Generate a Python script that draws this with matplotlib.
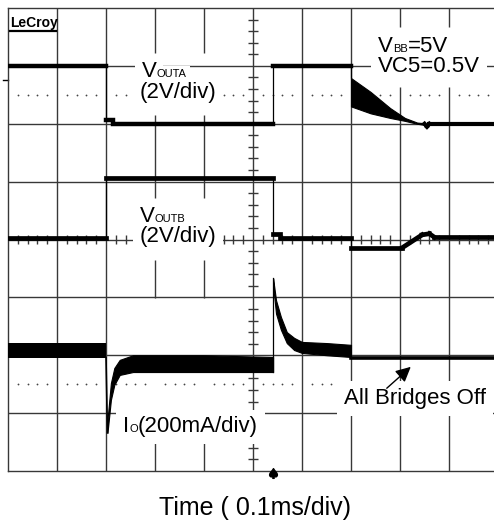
import matplotlib
matplotlib.use("Agg")
from matplotlib import pyplot as plt

plt.rcParams['font.family'] = ['Liberation Sans', 'DejaVu Sans']

'''Scope traces, read off the screen (x in time divisions, y in divisions from the bottom)'''
# VOUTA
outa_t = [0, 2.0, 2.0, 2.15, 2.15, 5.41, 5.41, 7.0, 7.0]
outa_v = [7.0, 7.0, 6.07, 6.07, 6.0, 6.0, 7.0, 7.0, 6.79]
outa_dec_t = [7.0, 7.4, 7.8, 8.1, 8.35, 8.5]
outa_dec_hi = [6.79, 6.55, 6.27, 6.10, 6.02, 6.01]
outa_dec_lo = [6.30, 6.18, 6.10, 6.05, 6.0, 5.98]
outa_tail_t = [8.5, 8.55, 8.6, 10]
outa_tail_v = [6.0, 5.95, 6.0, 6.0]

# VOUTB
outb_t = [0, 2.0, 2.0, 5.41, 5.41, 5.55, 5.55, 7.0, 7.0, 8.05, 8.45, 8.6, 8.7, 10]
outb_v = [4.03, 4.03, 5.06, 5.06, 4.09, 4.09, 4.03, 4.03, 3.86, 3.86, 4.08, 4.10, 4.04, 4.04]

# Io
io_pre_t = [0, 2.0]
io_pre_hi = [2.21, 2.21]
io_pre_lo = [1.96, 1.96]
io_drop_t = [2.0, 2.03]
io_drop_v = [1.96, 0.66]
io_rec_t = [2.03, 2.1, 2.17, 2.28, 2.55, 2.9, 3.25, 4.0, 5.41]
io_rec_hi = [0.88, 1.52, 1.78, 1.92, 2.0, 2.0, 2.0, 2.0, 1.97]
io_rec_lo = [0.66, 1.23, 1.49, 1.66, 1.71, 1.71, 1.71, 1.71, 1.71]
io_jump_t = [5.41, 5.41]
io_jump_v = [1.71, 3.33]
io_dec_t = [5.41, 5.47, 5.57, 5.69, 5.84, 6.0, 6.51, 7.0]
io_dec_hi = [3.33, 2.95, 2.66, 2.40, 2.30, 2.23, 2.21, 2.18]
io_dec_lo = [3.20, 2.72, 2.44, 2.21, 2.09, 2.04, 2.00, 1.97]
io_off_t = [7.0, 10]
io_off_v = [1.96, 1.96]

trig_t = 5.41

'''Screen'''
fig = plt.figure(figsize=(4.94, 5.23), dpi=100)
ax = fig.add_axes([8/494, 52/523, 490/494, 463/523])
ax.set_xlim(0, 10)
ax.set_ylim(0, 8)
ax.set_xticks([])
ax.set_yticks([])
grid = "#383838"
for s in ax.spines.values():
    s.set_color(grid)
    s.set_linewidth(1.0)
ax.spines["right"].set_visible(False)

# grid (some vertical lines are broken where the labels sit)
for t in [1, 2, 5, 6, 7]:
    ax.axvline(t, color=grid, lw=1.0, zorder=1)
for t in [3, 4]:
    for y0, y1 in [(7.22, 8), (4.72, 6.15), (2.99, 3.64), (0, 0.48)]:
        ax.vlines(t, y0, y1, color=grid, lw=1.0, zorder=1)
for t in [8, 9]:
    for y0, y1 in [(7.67, 8), (0, 6.63)]:
        ax.vlines(t, y0, y1, color=grid, lw=1.0, zorder=1)
for d in range(1, 8):
    ax.axhline(d, color=grid, lw=1.0, zorder=1)

# minor ticks on the centre lines and the dotted levels
minor_x = [k * 0.2 for k in range(51) if k % 5]
minor_y = [k * 0.2 for k in range(41) if k % 5]
ax.vlines(minor_x, 4 - 0.078, 4 + 0.078, color=grid, lw=1.0, zorder=1)
ax.hlines(minor_y, 5 - 0.1, 5 + 0.1, color=grid, lw=1.0, zorder=1)
for lvl in (6.5, 1.5):
    ax.plot(minor_x, [lvl] * len(minor_x), ls="none", marker="o", ms=1.3,
            mew=0, color="#444444", zorder=1)


def trace(t, v, lw):
    for i in range(len(t) - 1):
        w = 0.9 if t[i] == t[i + 1] else lw
        ax.plot(t[i:i + 2], v[i:i + 2], color="black", lw=w,
                solid_capstyle="projecting" if w > 1 else "butt", zorder=4)


trace(outa_t, outa_v, 3.2)
ax.fill_between(outa_dec_t, outa_dec_lo, outa_dec_hi, color="black", lw=0.8, zorder=4)
trace(outa_tail_t, outa_tail_v, 3.0)
trace(outb_t, outb_v, 3.4)

ax.fill_between(io_pre_t, io_pre_lo, io_pre_hi, color="black", lw=0, zorder=4)
ax.plot(io_drop_t, io_drop_v, color="black", lw=1.2, zorder=4)
ax.fill_between(io_rec_t, io_rec_lo, io_rec_hi, color="black", lw=0.8, zorder=4)
ax.plot(io_jump_t, io_jump_v, color="black", lw=0.9, zorder=4)
ax.fill_between(io_dec_t, io_dec_lo, io_dec_hi, color="black", lw=0.8, zorder=4)
trace(io_off_t, io_off_v, 2.6)

'''Labels'''
big = 16
small = 8
box = dict(facecolor="white", edgecolor="none", boxstyle="square,pad=0.3")


def label(x, y, parts):
    # parts: list of (text, size) set one after another on one baseline,
    # a white backing copy sits under the grid-covering text
    prev = None
    for s, size in parts:
        if prev is None:
            kw = dict(xy=(x, y), xycoords="data")
        else:
            kw = dict(xy=(1, y), xycoords=(prev, "data"))
        ax.annotate(s, fontsize=size, ha="left", va="baseline", color="none",
                    bbox=box, zorder=2, **kw)
        prev = ax.annotate(s, fontsize=size, ha="left", va="baseline",
                           color="black", zorder=3, **kw)


label(2.73, 6.80, [("V", big), ("OUTA", small)])
label(2.69, 6.44, [("(2V/div)", big)])
label(2.69, 4.30, [("V", big), ("OUTB", small)])
label(2.69, 3.96, [("(2V/div)", big)])
label(7.55, 7.24, [("V", big), ("BB", small), ("=5V", big)])
label(7.55, 6.89, [("VC5=0.5V", big)])
label(2.35, 0.67, [("I", big), ("O", small), ("(200mA/div)", big)])
label(6.86, 1.16, [("All Bridges Off", big)])

ax.annotate("", xy=(8.22, 1.80), xytext=(7.73, 1.43),
            arrowprops=dict(arrowstyle="-|>,head_length=0.9,head_width=0.45",
                            color="black", lw=1.0, shrinkA=0, shrinkB=0), zorder=5)

# trigger marker and ground marker
ax.plot([trig_t], [-0.04], marker=r"$\spadesuit$", ms=7, color="black", clip_on=False, zorder=5)
ax.plot([-0.1, 0], [6.75, 6.75], color="black", lw=1.0, clip_on=False)

fig.text(10/494, 1 - 27/523, "LeCroy", fontsize=10, fontweight="bold", ha="left", va="baseline")
fig.add_artist(plt.Line2D([10/494, 56/494], [1 - 30.5/523, 1 - 30.5/523], color="black", lw=1.6))

fig.text(255/494, 8/523, "Time ( 0.1ms/div)", fontsize=18, ha="center", va="baseline")

fig.savefig("out.png", dpi=100, facecolor="white")
